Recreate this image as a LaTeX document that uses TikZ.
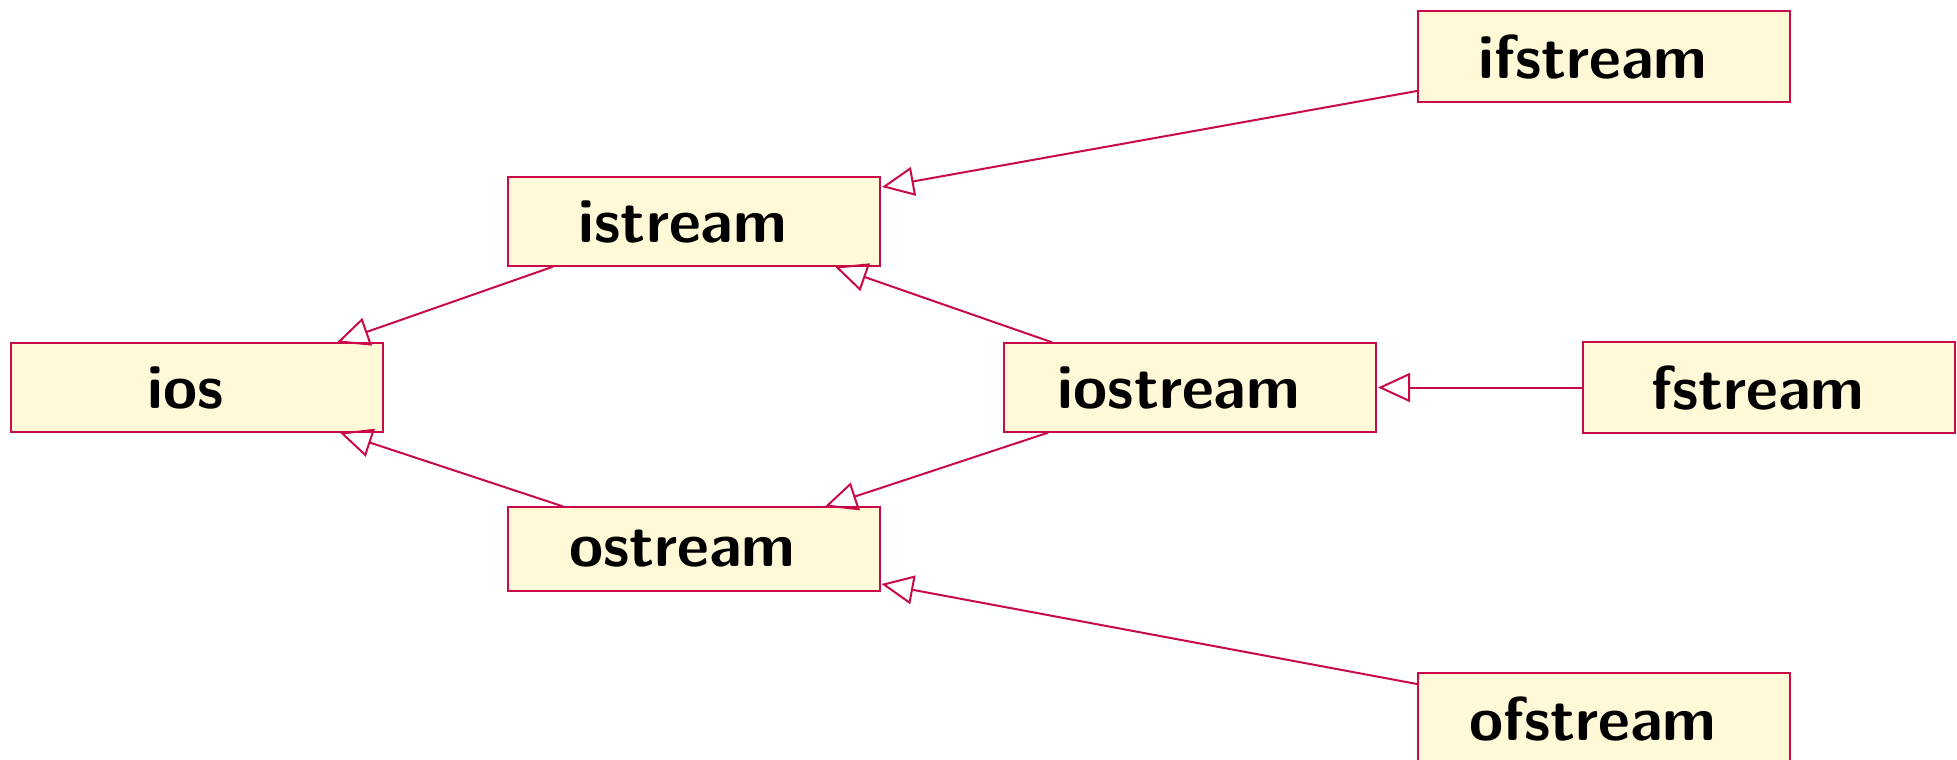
\documentclass[tikz,border=0pt]{standalone}
\usepackage{fontspec}
\usetikzlibrary{arrows.meta,calc}
\definecolor{umlred}{RGB}{200,10,70}
\definecolor{umlfill}{RGB}{255,249,215}
\begin{document}
\begin{tikzpicture}[x=1pt,y=-1pt,
  cls/.style={draw=umlred, fill=umlfill, line width=2pt, rectangle,
    minimum width=372pt, inner xsep=0pt, inner ysep=23pt,
    font=\sffamily\bfseries\fontsize{62}{74}\selectfont,
    execute at end node={\hspace*{22pt}}},
  inh/.style={draw=umlred, line width=2pt,
    -{Triangle[open, length=32pt, width=29pt, line width=2pt]}}]
\useasboundingbox (0,0) rectangle (1957,760);

% classes
\node[cls] (ifstream) at (1604,56.5)  {ifstream};
\node[cls] (istream)  at (694,221.5)  {istream};
\node[cls] (ios)      at (197,387.5)  {ios};
\node[cls] (iostream) at (1190,387.5) {iostream};
\node[cls] (fstream)  at (1769,387.5) {fstream};
\node[cls] (ostream)  at (693.5,549)  {ostream};
\node[cls] (ofstream) at (1604,718.5) {ofstream};

% inheritance
\draw[inh] ($(ifstream.west)+(0,34.5)$) -- ($(istream.east)+(1,-34.5)$);
\draw[inh] ($(istream.south)+(-141,0)$) -- ($(ios.north)+(140,0)$);
\draw[inh] ($(iostream.north)+(-138,0)$) -- ($(istream.south)+(141,0)$);
\draw[inh] ($(iostream.south)+(-142,0)$) -- ($(ostream.north)+(131.5,0)$);
\draw[inh] ($(ostream.north)+(-130.5,0)$) -- ($(ios.south)+(143,0)$);
\draw[inh] (fstream.west) -- ($(iostream.east)+(1,0)$);
\draw[inh] ($(ofstream.west)+(0,-34.5)$) -- ($(ostream.east)+(1,35)$);
\end{tikzpicture}
\end{document}
